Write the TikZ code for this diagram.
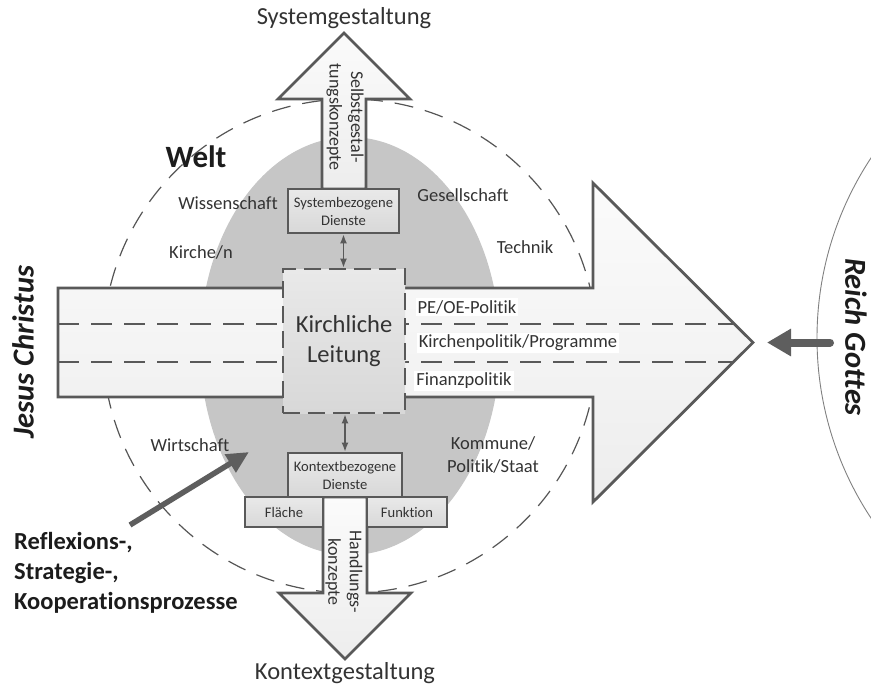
\documentclass[tikz,border=0pt]{standalone}
\usepackage{fontspec}
\setmainfont[Ligatures=NoCommon]{Carlito}
\usetikzlibrary{arrows.meta}

\definecolor{edge}{HTML}{595959}
\definecolor{ink}{HTML}{333333}
\definecolor{deepink}{HTML}{1C1C1C}
\definecolor{weltgray}{HTML}{C6C6C6}
\definecolor{ringgray}{HTML}{555555}
\definecolor{paletop}{HTML}{FBFBFB}
\definecolor{palebot}{HTML}{EDEDED}
\definecolor{boxtop}{HTML}{E9E9E9}
\definecolor{boxbot}{HTML}{D8D8D8}
\definecolor{pointer}{HTML}{5E5E5E}

\newcommand{\fsz}[2]{\fontsize{#1}{#2}\selectfont}

\begin{document}
\begin{tikzpicture}[x=1pt, y=-1pt,
  outline/.style={draw=edge, line width=2.8pt, line join=miter},
  bigarrow/.style={outline, top color=paletop, bottom color=palebot},
  dienst/.style={outline, top color=boxtop, bottom color=boxbot,
    align=center, text=ink, inner sep=0pt, font=\fsz{14.6}{18}},
  leitung/.style={draw=edge, line width=2.8pt, dash pattern=on 17pt off 8pt,
    top color=boxtop, bottom color=boxbot, align=center, text=ink,
    inner sep=0pt, font=\fsz{24.5}{30}},
  lane/.style={draw=edge, line width=2.8pt, dash pattern=on 21pt off 12pt},
  worldring/.style={draw=ringgray, line width=1.2pt, dash pattern=on 19pt off 12pt},
  kingdom/.style={draw=gray, line width=0.9pt},
  link/.style={draw=edge, line width=1.4pt,
    {Latex[length=9pt,width=7pt]}-{Latex[length=9pt,width=7pt]}},
  lbl/.style={text=ink, inner sep=0pt, font=\fsz{18.5}{23}, align=center},
  policy/.style={lbl, fill=white, inner sep=2pt},
  arrowtext/.style={text=ink, inner sep=0pt, font=\fsz{18}{21.5}, align=center, rotate=-90},
  pole/.style={text=deepink, inner sep=0pt, font=\fsz{30.5}{34}\bfseries\itshape}
]
\useasboundingbox (0,0) rectangle (871,686);
\clip (0,0) rectangle (871,686);

% the world: grey ellipse and dashed horizon
\fill[weltgray] (350,346) ellipse [x radius=150, y radius=209];
\draw[worldring] (350,346) circle [radius=247];

% the kingdom of God, seen from the left
\draw[kingdom] (1144,338) circle [radius=327];

% main horizontal arrow with its three lanes
\draw[bigarrow] (58,288) -- (593,288) -- (593,183) -- (753,342.5)
  -- (593,502) -- (593,397) -- (58,397) -- cycle;
\draw[lane] (58,324) -- (735,324);
\draw[lane] (58,362) -- (733,362);

% vertical arrows up and down
\draw[bigarrow] (322,189) -- (322,99) -- (278,99) -- (344,33) -- (410,99)
  -- (366,99) -- (366,189) -- cycle;
\draw[bigarrow] (323,497) -- (323,593) -- (279,593) -- (345,659) -- (411,593)
  -- (367,593) -- (367,497) -- cycle;

% boxes
\node[dienst, minimum width=111pt, minimum height=44pt] (sys) at (343.5,211)
  {Systembezogene\\Dienste};
\node[leitung, minimum width=122pt, minimum height=144pt] (lead) at (344,341)
  {Kirchliche\\Leitung};
\node[dienst, minimum width=114pt, minimum height=44pt] (ctx) at (345,475)
  {Kontextbezogene\\Dienste};
\node[dienst, minimum width=78pt, minimum height=30pt] (flaeche) at (284,512) {Fläche};
\node[dienst, minimum width=80pt, minimum height=30pt] (funktion) at (407,512) {Funktion};

% links between the boxes
\draw[link] (sys.south) -- (sys.south |- lead.north);
\draw[link] (ctx.north |- lead.south) -- (ctx.north);

% texts inside the vertical arrows
\node[arrowtext] (selbst) at (345,117) {Selbstgestal-\\tungskonzepte};
\node[arrowtext] (handlung) at (344,572) {Handlungs-\\konzepte};

% goals of the vertical arrows
\node[text=ink, inner sep=0pt, font=\fsz{24.5}{28}] (sysgest) at (344,18) {Systemgestaltung};
\node[text=ink, inner sep=0pt, font=\fsz{24.5}{28}] (ctxgest) at (345,673) {Kontextgestaltung};

% fields of the world
\node[text=deepink, inner sep=0pt, font=\fsz{31}{34}\bfseries] (welt) at (196,157) {Welt};
\node[lbl] (wiss) at (228,203) {Wissenschaft};
\node[lbl] (kirchen) at (201,252) {Kirche/n};
\node[lbl] (gesell) at (463,195) {Gesellschaft};
\node[lbl] (technik) at (525,247) {Technik};
\node[lbl] (wirtschaft) at (190,445) {Wirtschaft};
\node[lbl] (kommune) at (493,455) {Kommune/\\Politik/Staat};

% policy lanes
\node[policy] (peoe) at (467,307) {PE/OE-Politik};
\node[policy] (kpol) at (518,343) {Kirchenpolitik/Programme};
\node[policy] (finanz) at (464,381) {Finanzpolitik};

% the two poles
\node[pole, rotate=90] (jesus) at (23,352) {Jesus Christus};
\node[pole, rotate=-90] (reich) at (856,337) {Reich Gottes};
\coordinate (reichfrom) at (830,342.5);
\coordinate (reichto) at (767,342.5);
\draw[pointer, line width=8pt, line cap=round,
  -{Triangle[length=24pt, width=26pt]}] (reichfrom) -- (reichto);

% processes
\node[anchor=west, text=deepink, inner sep=0pt, align=left,
  font=\fsz{24.5}{30}\bfseries] (refl) at (14,573)
  {Reflexions-,\\Strategie-,\\Kooperationsprozesse};
\coordinate (reflfrom) at (130,525);
\coordinate (reflto) at (249,452);
\draw[pointer, line width=5.5pt,
  -{Triangle[length=22pt, width=20pt]}] (reflfrom) -- (reflto);
\end{tikzpicture}
\end{document}
